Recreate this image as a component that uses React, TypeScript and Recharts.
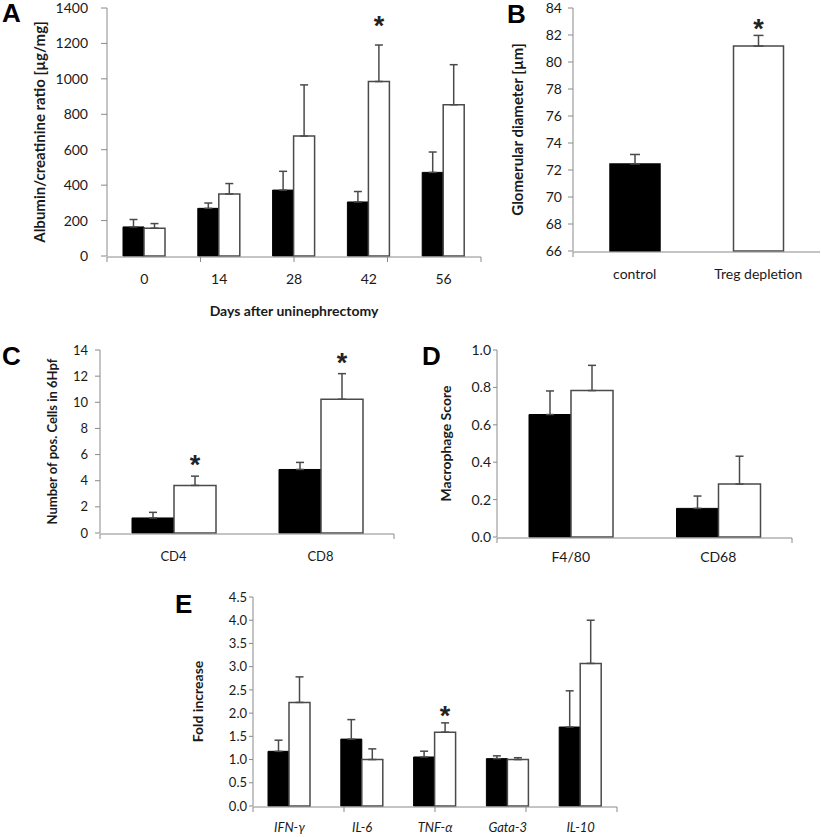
import { BarChart, Bar, XAxis, YAxis, ErrorBar, LabelList, Cell, Label } from 'recharts';

const FONT = 'Lato, "Open Sans", sans-serif';
const AXIS = '#8a8a8a';
const ERR = '#4a4a4a';
const OUTLINE = '#4a4a4a';

// A: albumin/creatinine ratio over time
const aDays = ['0', '14', '28', '42', '56'];
const aControl = [164, 269, 372, 305, 472];
const aControlErr = [42, 30, 106, 59, 115];
const aTreg = [157, 350, 677, 985, 854];
const aTregErr = [26, 59, 289, 206, 226];
const aStars = [false, false, false, true, false];
const aTicks = [0, 200, 400, 600, 800, 1000, 1200, 1400];

// B: glomerular diameter
const bGroups = ['control', 'Treg depletion'];
const bValues = [72.45, 81.18];
const bErr = [0.7, 0.79];
const bStars = [false, true];
const bTicks = [66, 68, 70, 72, 74, 76, 78, 80, 82, 84];

// C: positive cells
const cCells = ['CD4', 'CD8'];
const cControl = [1.15, 4.86];
const cControlErr = [0.43, 0.54];
const cTreg = [3.64, 10.23];
const cTregErr = [0.71, 1.96];
const cStars = [true, true];
const cTicks = [0, 2, 4, 6, 8, 10, 12, 14];

// D: macrophage score
const dMarkers = ['F4/80', 'CD68'];
const dControl = [0.655, 0.153];
const dControlErr = [0.126, 0.066];
const dTreg = [0.783, 0.283];
const dTregErr = [0.135, 0.149];
const dStars = [false, false];
const dTicks = [0, 0.2, 0.4, 0.6, 0.8, 1.0];

// E: fold increase of cytokines
const eGenes = ['IFN-γ', 'IL-6', 'TNF-α', 'Gata-3', 'IL-10'];
const eControl = [1.177, 1.44, 1.055, 1.02, 1.7];
const eControlErr = [0.24, 0.42, 0.125, 0.06, 0.78];
const eTreg = [2.23, 1.0, 1.59, 1.0, 3.07];
const eTregErr = [0.55, 0.23, 0.2, 0.04, 0.93];
const eStars = [false, false, true, false, false];
const eTicks = [0, 0.5, 1, 1.5, 2, 2.5, 3, 3.5, 4, 4.5];

// asterisk above the error bar; lift = distance from error-bar top to the text baseline
const starLabel =
  (stars: boolean[], errs: number[], base: number, lift: number) => (props: any) => {
    const { x, y, width, height, index, value } = props;
    if (!stars[index]) return null;
    const px = height / (Number(value) - base);
    const top = y - errs[index] * px;
    return (
      <text
        x={x + width / 2}
        y={top - lift}
        textAnchor="middle"
        fontSize={27}
        fontWeight="bold"
        fontFamily='"Liberation Sans", Arial, sans-serif'
        fill="#222"
      >
        *
      </text>
    );
  };

type PanelProps = {
  left: number;
  top: number;
  width: number;
  height: number;
  margin: { top: number; right: number; bottom: number };
  yWidth: number;
  yLabel: string;
  yLabelX: number;
  yLabelFont: number;
  ticks: number[];
  decimals: number;
  tickFont: number;
  tickGap: number;
  tickLen: number;
  cats: string[];
  control: number[];
  controlErr: number[];
  treg: number[];
  tregErr: number[];
  stars: boolean[];
  starLift: number;
  barSize: number;
  capWidth: number;
  catMargin: number;
  italic?: boolean;
  xTitle?: string;
  xTitleOffset?: number;
};

const Panel = (p: PanelProps) => {
  const data = p.cats.map((c, i) => ({
    name: c,
    control: p.control[i],
    cErr: [0, p.controlErr[i]],
    treg: p.treg[i],
    tErr: [0, p.tregErr[i]],
  }));
  const n = p.cats.length;
  const bounds = Array.from({ length: n + 1 }, (_, i) => i);
  return (
    <div style={{ position: 'absolute', left: p.left, top: p.top }}>
      <BarChart
        width={p.width}
        height={p.height}
        data={data}
        margin={{ top: p.margin.top, right: p.margin.right, bottom: p.margin.bottom, left: 0 }}
        barGap={0}
        barSize={p.barSize}
      >
        <XAxis
          xAxisId="bnd"
          type="number"
          domain={[0, n]}
          ticks={bounds}
          height={1}
          tickSize={5}
          tickFormatter={() => ''}
          axisLine={{ stroke: AXIS }}
          tickLine={{ stroke: AXIS }}
        />
        <XAxis
          dataKey="name"
          height={1}
          axisLine={false}
          tickLine={false}
          tickSize={0}
          tickMargin={p.catMargin}
          interval={0}
          tick={{
            fontSize: p.tickFont,
            fill: '#1a1a1a',
            fontFamily: FONT,
            fontStyle: p.italic ? 'italic' : 'normal',
          }}
        >
          {p.xTitle && (
            <Label
              value={p.xTitle}
              position="bottom"
              offset={p.xTitleOffset}
              style={{ fontSize: 14, fontWeight: 'bold', fill: '#1a1a1a', fontFamily: FONT }}
            />
          )}
        </XAxis>
        <YAxis
          width={p.yWidth}
          domain={[p.ticks[0], p.ticks[p.ticks.length - 1]]}
          ticks={p.ticks}
          interval={0}
          tickSize={p.tickLen}
          tickMargin={p.tickGap}
          tickFormatter={(v: number) => v.toFixed(p.decimals)}
          axisLine={{ stroke: AXIS }}
          tickLine={{ stroke: AXIS }}
          tick={{ fontSize: p.tickFont, fill: '#1a1a1a', fontFamily: FONT }}
        >
          <Label
            value={p.yLabel}
            angle={-90}
            position="insideLeft"
            offset={p.yLabelX}
            style={{
              fontSize: p.yLabelFont,
              fontWeight: 'bold',
              fill: '#1a1a1a',
              fontFamily: FONT,
              textAnchor: 'middle',
            }}
          />
        </YAxis>
        <Bar dataKey="control" fill="#000" stroke="#000" isAnimationActive={false}>
          <ErrorBar dataKey="cErr" width={p.capWidth} stroke={ERR} strokeWidth={1.5} />
        </Bar>
        <Bar dataKey="treg" fill="#fff" stroke={OUTLINE} strokeWidth={1.5} isAnimationActive={false}>
          <ErrorBar dataKey="tErr" width={p.capWidth} stroke={ERR} strokeWidth={1.5} />
          <LabelList dataKey="treg" content={starLabel(p.stars, p.tregErr, p.ticks[0], p.starLift)} />
        </Bar>
      </BarChart>
    </div>
  );
};

const PanelB = () => {
  const data = bGroups.map((g, i) => ({ name: g, value: bValues[i], err: [0, bErr[i]] }));
  return (
    <div style={{ position: 'absolute', left: 500, top: 0 }}>
      <BarChart
        width={321}
        height={291}
        data={data}
        margin={{ top: 8, right: 1, bottom: 38, left: 0 }}
        barSize={50}
      >
        <XAxis
          xAxisId="bnd"
          type="number"
          domain={[0, 2]}
          ticks={[0, 1, 2]}
          height={1}
          tickSize={5}
          tickFormatter={() => ''}
          axisLine={{ stroke: AXIS }}
          tickLine={{ stroke: AXIS }}
        />
        <XAxis
          dataKey="name"
          height={1}
          axisLine={false}
          tickLine={false}
          tickSize={0}
          tickMargin={18}
          interval={0}
          tick={{ fontSize: 14, fill: '#1a1a1a', fontFamily: FONT }}
        />
        <YAxis
          width={73}
          domain={[66, 84]}
          ticks={bTicks}
          interval={0}
          tickSize={5}
          tickMargin={6}
          axisLine={{ stroke: AXIS }}
          tickLine={{ stroke: AXIS }}
          tick={{ fontSize: 14, fill: '#1a1a1a', fontFamily: FONT }}
        >
          <Label
            value="Glomerular diameter [µm]"
            angle={-90}
            position="insideLeft"
            offset={18}
            style={{ fontSize: 15, fontWeight: 'bold', fill: '#1a1a1a', fontFamily: FONT, textAnchor: 'middle' }}
          />
        </YAxis>
        <Bar dataKey="value" isAnimationActive={false} strokeWidth={1.5}>
          {data.map((d, i) => (
            <Cell key={d.name} fill={i === 0 ? '#000' : '#fff'} stroke={i === 0 ? '#000' : OUTLINE} />
          ))}
          <ErrorBar dataKey="err" width={5} stroke={ERR} strokeWidth={1.5} />
          <LabelList dataKey="value" content={starLabel(bStars, bErr, 66, -3)} />
        </Bar>
      </BarChart>
    </div>
  );
};

const letters = [
  { t: 'A', x: 2, y: 22 },
  { t: 'B', x: 507, y: 23 },
  { t: 'C', x: 2, y: 365 },
  { t: 'D', x: 422, y: 365 },
  { t: 'E', x: 175, y: 613 },
];

export default function App() {
  return (
    <div style={{ position: 'absolute', left: 0, top: 0, width: 821, height: 837, background: '#fff' }}>
      <Panel
        left={0}
        top={0}
        width={490}
        height={326}
        margin={{ top: 8, right: 9, bottom: 68 }}
        yWidth={107}
        yLabel="Albumin/creatinine ratio [µg/mg]"
        yLabelX={40}
        yLabelFont={15}
        ticks={aTicks}
        decimals={0}
        tickFont={14}
        tickGap={13}
        tickLen={6}
        cats={aDays}
        control={aControl}
        controlErr={aControlErr}
        treg={aTreg}
        tregErr={aTregErr}
        stars={aStars}
        starLift={10}
        barSize={21}
        capWidth={4}
        catMargin={18}
        xTitle="Days after uninephrectomy"
        xTitleOffset={49}
      />
      <PanelB />
      <Panel
        left={0}
        top={330}
        width={400}
        height={243}
        margin={{ top: 20, right: 6, bottom: 38 }}
        yWidth={100}
        yLabel="Number of pos. Cells in 6Hpf"
        yLabelX={52}
        yLabelFont={13}
        ticks={cTicks}
        decimals={0}
        tickFont={13}
        tickGap={7}
        tickLen={5}
        cats={cCells}
        control={cControl}
        controlErr={cControlErr}
        treg={cTreg}
        tregErr={cTregErr}
        stars={cStars}
        starLift={2}
        barSize={42}
        capWidth={4}
        catMargin={19}
      />
      <Panel
        left={410}
        top={330}
        width={400}
        height={247}
        margin={{ top: 20, right: 18, bottom: 38 }}
        yWidth={87}
        yLabel="Macrophage Score"
        yLabelX={36}
        yLabelFont={14}
        ticks={dTicks}
        decimals={1}
        tickFont={14}
        tickGap={2}
        tickLen={4}
        cats={dMarkers}
        control={dControl}
        controlErr={dControlErr}
        treg={dTreg}
        tregErr={dTregErr}
        stars={dStars}
        starLift={0}
        barSize={42}
        capWidth={4}
        catMargin={15}
      />
      <Panel
        left={160}
        top={580}
        width={470}
        height={256}
        margin={{ top: 17, right: 13, bottom: 28 }}
        yWidth={93}
        yLabel="Fold increase"
        yLabelX={38}
        yLabelFont={14}
        ticks={eTicks}
        decimals={1}
        tickFont={13}
        tickGap={2}
        tickLen={4}
        cats={eGenes}
        control={eControl}
        controlErr={eControlErr}
        treg={eTreg}
        tregErr={eTregErr}
        stars={eStars}
        starLift={-2}
        barSize={21}
        capWidth={4}
        catMargin={17}
        italic
      />
      <svg
        width={821}
        height={837}
        style={{ position: 'absolute', left: 0, top: 0, pointerEvents: 'none' }}
      >
        {letters.map((l) => (
          <text
            key={l.t}
            x={l.x}
            y={l.y}
            fontSize={26}
            fontWeight="bold"
            fontFamily='"Liberation Sans", Arial, sans-serif'
            fill="#000"
          >
            {l.t}
          </text>
        ))}
      </svg>
    </div>
  );
}
